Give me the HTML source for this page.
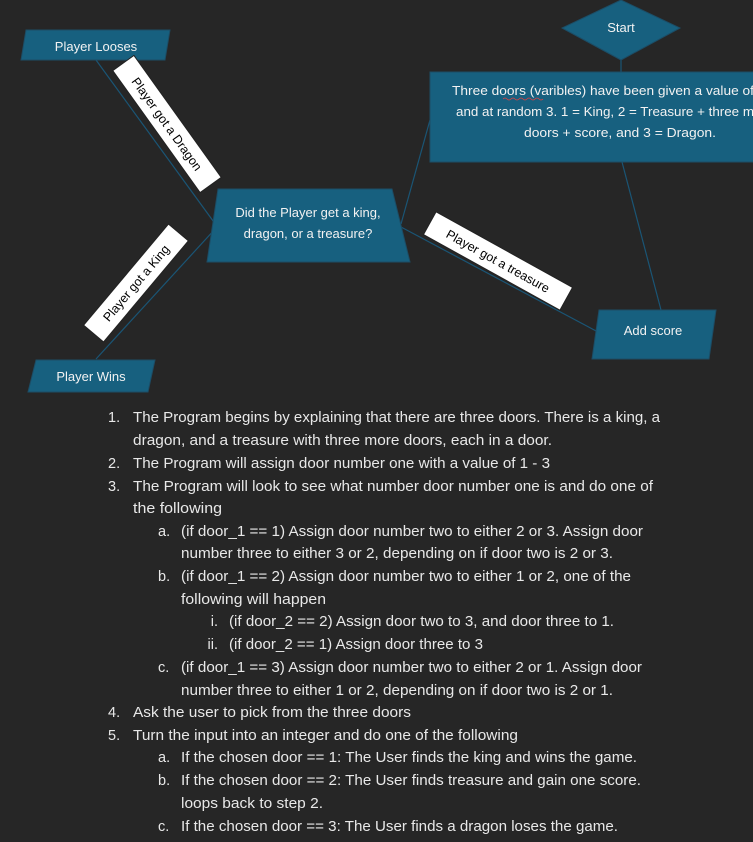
<!DOCTYPE html>
<html><head><meta charset="utf-8"><style>
html,body{margin:0;padding:0;background:#262626;width:753px;height:842px;overflow:hidden}
svg{display:block}
text{font-family:"Liberation Sans",sans-serif}
.w{fill:#f2f2f2;font-size:13px}
.l{fill:#e8e8e8;font-size:14.5px}
.b{fill:#000;font-size:12.5px}
</style></head><body>
<svg width="753" height="842" viewBox="0 0 753 842" xmlns="http://www.w3.org/2000/svg">
<rect width="753" height="842" fill="#262626"/>
<g stroke="#1a5575" stroke-width="1.2" fill="none">
<line x1="96" y1="60" x2="216" y2="225"/>
<line x1="96" y1="359" x2="216" y2="228"/>
<line x1="401" y1="224" x2="430" y2="120"/>
<line x1="401" y1="227" x2="598" y2="332"/>
<line x1="622" y1="162" x2="661" y2="310"/>
<line x1="621" y1="60" x2="621" y2="72"/>
</g>
<g fill="#17607f" stroke="#1c4d66" stroke-width="1">
<polygon points="621,0 680,28 621,60 562,28"/>
<rect x="430" y="72" width="330" height="90"/>
<polygon points="218,189 392,189 410,262 207,262"/>
<polygon points="26,30 170,30 165,60 21,60"/>
<polygon points="36,360 155,360 148,392 28,392"/>
<polygon points="599,310 716,310 709,359 592,359"/>
</g>
<text class="w" x="621" y="32" text-anchor="middle">Start</text>
<text class="w" x="452" y="95" textLength="302" lengthAdjust="spacingAndGlyphs">Three doors (varibles) have been given a value of</text>
<path d="M503,99 q2,-2 4,0 t4,0 t4,0 t4,0 t4,0 t4,0 t4,0 t4,0 t4,0 t4,0" stroke="#e04040" stroke-width="0.8" fill="none"/>
<text class="w" x="456" y="116" textLength="298" lengthAdjust="spacingAndGlyphs">and at random 3. 1 = King, 2 = Treasure + three m</text>
<text class="w" x="524" y="137" textLength="192" lengthAdjust="spacingAndGlyphs">doors + score, and 3 = Dragon.</text>
<text class="w" x="308" y="217" text-anchor="middle">Did the Player get a king,</text>
<text class="w" x="308" y="238" text-anchor="middle">dragon, or a treasure?</text>
<text class="w" x="96" y="51" text-anchor="middle">Player Looses</text>
<text class="w" x="91" y="381" text-anchor="middle">Player Wins</text>
<text class="w" x="653" y="335" text-anchor="middle">Add score</text>
<g transform="translate(167,124) rotate(54.4)">
<rect x="-75" y="-13" width="150" height="26" fill="#fff" stroke="#222"/>
<text class="b" x="0" y="4.5" text-anchor="middle">Player got a Dragon</text></g>
<g transform="translate(136,283) rotate(-50)">
<rect x="-66" y="-13" width="132" height="26" fill="#fff" stroke="#222"/>
<text class="b" x="0" y="4.5" text-anchor="middle">Player got a King</text></g>
<g transform="translate(498,261) rotate(29)">
<rect x="-78" y="-13" width="156" height="26" fill="#fff" stroke="#222"/>
<text class="b" x="0" y="4.5" text-anchor="middle">Player got a treasure</text></g>
<g class="l">
<text x="108" y="422">1.</text><text x="133" y="422" textLength="527" lengthAdjust="spacingAndGlyphs">The Program begins by explaining that there are three doors. There is a king, a</text>
<text x="133" y="445" textLength="419" lengthAdjust="spacingAndGlyphs">dragon, and a treasure with three more doors, each in a door.</text>
<text x="108" y="468">2.</text><text x="133" y="468" textLength="417" lengthAdjust="spacingAndGlyphs">The Program will assign door number one with a value of 1 - 3</text>
<text x="108" y="491">3.</text><text x="133" y="491" textLength="520" lengthAdjust="spacingAndGlyphs">The Program will look to see what number door number one is and do one of</text>
<text x="133" y="513" textLength="89" lengthAdjust="spacingAndGlyphs">the following</text>
<text x="158" y="536">a.</text><text x="181" y="536" textLength="462" lengthAdjust="spacingAndGlyphs">(if door_1 == 1) Assign door number two to either 2 or 3. Assign door</text>
<text x="181" y="558" textLength="432" lengthAdjust="spacingAndGlyphs">number three to either 3 or 2, depending on if door two is 2 or 3.</text>
<text x="158" y="581">b.</text><text x="181" y="581" textLength="450" lengthAdjust="spacingAndGlyphs">(if door_1 == 2) Assign door number two to either 1 or 2, one of the</text>
<text x="181" y="604" textLength="145" lengthAdjust="spacingAndGlyphs">following will happen</text>
<text x="218" y="626" text-anchor="end">i.</text><text x="229" y="626" textLength="385" lengthAdjust="spacingAndGlyphs">(if door_2 == 2) Assign door two to 3, and door three to 1.</text>
<text x="218" y="649" text-anchor="end">ii.</text><text x="229" y="649" textLength="254" lengthAdjust="spacingAndGlyphs">(if door_2 == 1) Assign door three to 3</text>
<text x="158" y="672">c.</text><text x="181" y="672" textLength="461" lengthAdjust="spacingAndGlyphs">(if door_1 == 3) Assign door number two to either 2 or 1. Assign door</text>
<text x="181" y="695" textLength="432" lengthAdjust="spacingAndGlyphs">number three to either 1 or 2, depending on if door two is 2 or 1.</text>
<text x="108" y="717">4.</text><text x="133" y="717" textLength="278" lengthAdjust="spacingAndGlyphs">Ask the user to pick from the three doors</text>
<text x="108" y="740">5.</text><text x="133" y="740" textLength="385" lengthAdjust="spacingAndGlyphs">Turn the input into an integer and do one of the following</text>
<text x="158" y="762">a.</text><text x="181" y="762" textLength="456" lengthAdjust="spacingAndGlyphs">If the chosen door == 1: The User finds the king and wins the game.</text>
<text x="158" y="785">b.</text><text x="181" y="785" textLength="460" lengthAdjust="spacingAndGlyphs">If the chosen door == 2: The User finds treasure and gain one score.</text>
<text x="181" y="808" textLength="142" lengthAdjust="spacingAndGlyphs">loops back to step 2.</text>
<text x="158" y="831">c.</text><text x="181" y="831" textLength="437" lengthAdjust="spacingAndGlyphs">If the chosen door == 3: The User finds a dragon loses the game.</text>
</g>
</svg>
</body></html>
